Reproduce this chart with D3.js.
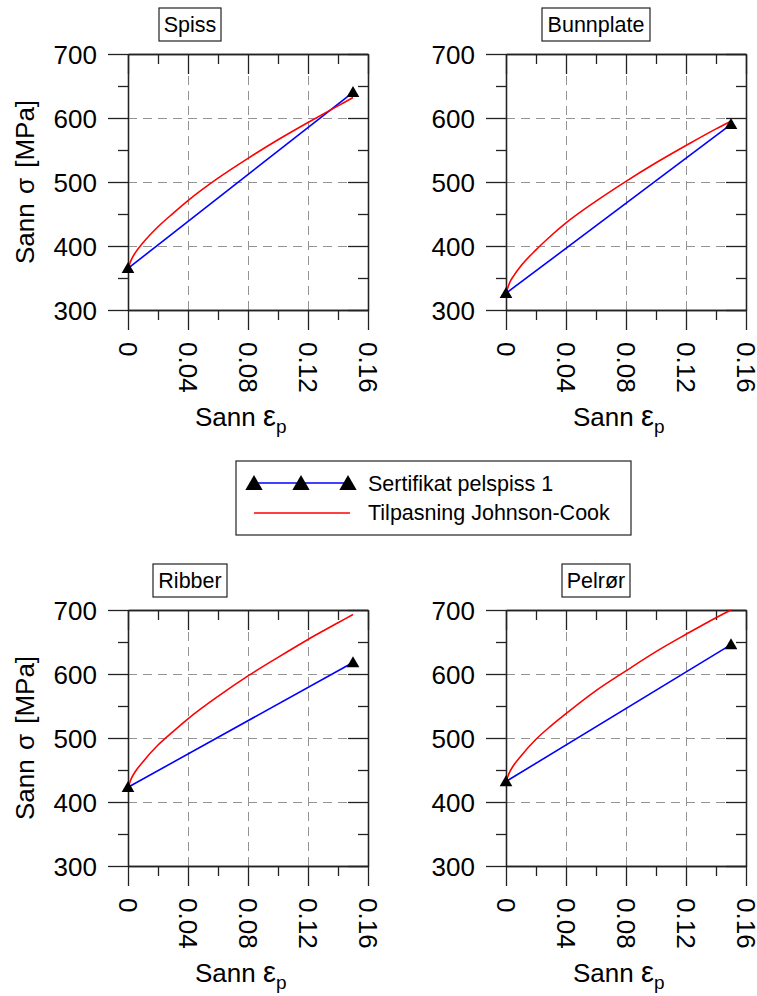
<!DOCTYPE html>
<html>
<head>
<meta charset="utf-8">
<script src="https://cdn.jsdelivr.net/npm/d3@7"></script>
<style>
  html, body { margin: 0; padding: 0; background: #fff; }
  svg { display: block; font-family: "Liberation Sans", Arial, sans-serif; }
</style>
</head>
<body>
<svg id="chart" width="757" height="996"></svg>
<script>
// Certificate points (true plastic strain, true stress in MPa)
const certStrain = [0, 0.15];
const certSpiss = [365, 640];
const certBunnplate = [326, 590];
const certRibber = [423, 618];
const certPelror = [432, 646];

// Johnson-Cook fitted curves, read along the strain axis
const fitStrain = [0, 0.0025, 0.005, 0.01, 0.02, 0.03, 0.04, 0.06, 0.08, 0.10, 0.12, 0.14, 0.15];
const fitSpiss = [365, 380, 390, 405, 430, 451, 471, 506, 537, 566, 593, 619, 632];
const fitBunnplate = [326, 343, 353, 369, 394, 416, 436, 470, 501, 530, 557, 583, 595];
const fitRibber = [423, 438, 448, 463, 489, 510, 530, 565, 597, 626, 654, 680, 693];
const fitPelror = [432, 447, 457, 472, 498, 519, 538, 574, 605, 635, 662, 688, 700];

const panelTitles = ["Spiss", "Bunnplate", "Ribber", "Pelrør"];

// Axis ticks
const xMajor = [0, 0.04, 0.08, 0.12, 0.16];
const xMinor = [0.02, 0.06, 0.10, 0.14];
const xTickLabels = ["0", "0.04", "0.08", "0.12", "0.16"];
const yMajor = [300, 400, 500, 600, 700];
const yMinor = [350, 450, 550, 650];
const yTickLabels = ["300", "400", "500", "600", "700"];
const xGrid = [0.04, 0.08, 0.12];
const yGrid = [400, 500, 600];

const legendLabels = ["Sertifikat pelspiss 1", "Tilpasning Johnson-Cook"];

// Layout
const W = 240, H = 256;
const colX = [128, 506];
const rowY = [54, 610];
const titleCenterX = [190, 596];
const INK = "#222";

const panels = [
  { title: panelTitles[0], cert: certSpiss, fit: fitSpiss, col: 0, row: 0, titleW: 62 },
  { title: panelTitles[1], cert: certBunnplate, fit: fitBunnplate, col: 1, row: 0, titleW: 108 },
  { title: panelTitles[2], cert: certRibber, fit: fitRibber, col: 0, row: 1, titleW: 74 },
  { title: panelTitles[3], cert: certPelror, fit: fitPelror, col: 1, row: 1, titleW: 68 }
];

const svg = d3.select("#chart");

const x = d3.scaleLinear().domain([0, 0.16]).range([0, W]);
const y = d3.scaleLinear().domain([300, 700]).range([H, 0]);

const triangle = d3.symbol().type(d3.symbolTriangle);

function styleAxis(sel) {
  sel.select(".domain").attr("stroke", INK).attr("stroke-width", 1.3);
  sel.selectAll(".tick line").attr("stroke", INK).attr("stroke-width", 1.3);
  sel.selectAll(".tick text").attr("fill", "#000").attr("font-size", 26);
}

function drawPanel(p) {
  const g = svg.append("g")
    .attr("transform", `translate(${colX[p.col]},${rowY[p.row]})`);

  // dashed grid
  const gx = g.append("g").attr("transform", `translate(0,${H})`)
    .call(d3.axisBottom(x).tickValues(xGrid).tickSize(-H).tickFormat(""));
  const gy = g.append("g")
    .call(d3.axisLeft(y).tickValues(yGrid).tickSize(-W).tickFormat(""));
  [gx, gy].forEach(s => {
    s.select(".domain").remove();
    s.selectAll(".tick line").attr("stroke", "#939393").attr("stroke-width", 1)
      .attr("stroke-dasharray", "9,6");
  });

  // left axis
  const left = g.append("g")
    .call(d3.axisLeft(y).tickValues(yMajor).tickSize(20).tickSizeOuter(0).tickPadding(11)
      .tickFormat((d, i) => yTickLabels[i]));
  styleAxis(left);
  left.selectAll(".tick text").attr("dy", "0.36em");
  styleAxis(g.append("g").call(d3.axisLeft(y).tickValues(yMinor).tickSize(10).tickSizeOuter(0).tickFormat("")));

  // bottom axis with rotated labels
  const bottom = g.append("g").attr("transform", `translate(0,${H})`)
    .call(d3.axisBottom(x).tickValues(xMajor).tickSize(20).tickSizeOuter(0)
      .tickFormat((d, i) => xTickLabels[i]));
  styleAxis(bottom);
  bottom.selectAll(".tick text")
    .attr("transform", "rotate(90)")
    .attr("x", 32)
    .attr("y", 0)
    .attr("dy", "0.36em")
    .attr("text-anchor", "start");
  styleAxis(g.append("g").attr("transform", `translate(0,${H})`)
    .call(d3.axisBottom(x).tickValues(xMinor).tickSize(10).tickSizeOuter(0).tickFormat("")));

  // top and right axes (ticks inward)
  styleAxis(g.append("g").call(d3.axisTop(x).tickValues(xMajor).tickSize(-20).tickSizeOuter(0).tickFormat("")));
  styleAxis(g.append("g").call(d3.axisTop(x).tickValues(xMinor).tickSize(-10).tickSizeOuter(0).tickFormat("")));
  styleAxis(g.append("g").attr("transform", `translate(${W},0)`)
    .call(d3.axisRight(y).tickValues(yMajor).tickSize(-20).tickSizeOuter(0).tickFormat("")));
  styleAxis(g.append("g").attr("transform", `translate(${W},0)`)
    .call(d3.axisRight(y).tickValues(yMinor).tickSize(-10).tickSizeOuter(0).tickFormat("")));

  // certificate line
  const certData = certStrain.map((e, i) => [e, p.cert[i]]);
  g.append("path")
    .datum(certData)
    .attr("fill", "none")
    .attr("stroke", "#0000ff")
    .attr("stroke-width", 1.6)
    .attr("d", d3.line().x(d => x(d[0])).y(d => y(d[1])));

  // Johnson-Cook fit
  const fitData = fitStrain.map((e, i) => [e, p.fit[i]]);
  g.append("path")
    .datum(fitData)
    .attr("fill", "none")
    .attr("stroke", "#ff0000")
    .attr("stroke-width", 1.6)
    .attr("d", d3.line().curve(d3.curveMonotoneX).x(d => x(d[0])).y(d => y(d[1])));

  // markers
  g.selectAll("path.marker")
    .data(certData)
    .join("path")
    .attr("class", "marker")
    .attr("transform", d => `translate(${x(d[0])},${y(d[1]) + 1})`)
    .attr("d", triangle.size(70))
    .attr("fill", "#000");

  // x-axis title
  const xt = g.append("text")
    .attr("x", 67)
    .attr("y", H + 116)
    .attr("font-size", 26)
    .attr("fill", "#000");
  xt.append("tspan").text("Sann ");
  xt.append("tspan").attr("font-size", 29).text("ε");
  xt.append("tspan").attr("font-size", 19).attr("dy", 7).text("p");

  // y-axis title, left column only
  if (p.col === 0) {
    const yt = svg.append("text")
      .attr("transform", `translate(34,${rowY[p.row] + 128}) rotate(-90)`)
      .attr("text-anchor", "middle")
      .attr("font-size", 26)
      .attr("fill", "#000");
    yt.append("tspan").text("Sann");
    yt.append("tspan").attr("dx", 2).text(" σ");
    yt.append("tspan").attr("dx", 3).text(" [MPa]");
  }

  // panel title box
  const cx = titleCenterX[p.col];
  const ty = p.row === 0 ? 8 : 564;
  svg.append("rect")
    .attr("x", cx - p.titleW / 2)
    .attr("y", ty)
    .attr("width", p.titleW)
    .attr("height", 33)
    .attr("fill", "#fff")
    .attr("stroke", INK)
    .attr("stroke-width", 1.2);
  svg.append("text")
    .attr("x", cx)
    .attr("y", ty + 24)
    .attr("text-anchor", "middle")
    .attr("font-size", 21.5)
    .attr("fill", "#000")
    .text(p.title);
}

panels.forEach(drawPanel);

// legend
const lg = svg.append("g");
lg.append("rect")
  .attr("x", 236).attr("y", 461)
  .attr("width", 395).attr("height", 74)
  .attr("fill", "#fff")
  .attr("stroke", INK)
  .attr("stroke-width", 1.2);
lg.append("line")
  .attr("x1", 254).attr("x2", 348).attr("y1", 483).attr("y2", 483)
  .attr("stroke", "#0000ff").attr("stroke-width", 1.6);
lg.selectAll("path.lm")
  .data([254, 301, 348])
  .join("path")
  .attr("class", "lm")
  .attr("transform", d => `translate(${d},485)`)
  .attr("d", triangle.size(130))
  .attr("fill", "#000");
lg.append("line")
  .attr("x1", 254).attr("x2", 350).attr("y1", 513).attr("y2", 513)
  .attr("stroke", "#ff0000").attr("stroke-width", 1.6);
lg.selectAll("text")
  .data(legendLabels)
  .join("text")
  .attr("x", 368)
  .attr("y", (d, i) => 491 + i * 29)
  .attr("font-size", 21.5)
  .attr("fill", "#000")
  .text(d => d);
</script>
</body>
</html>
